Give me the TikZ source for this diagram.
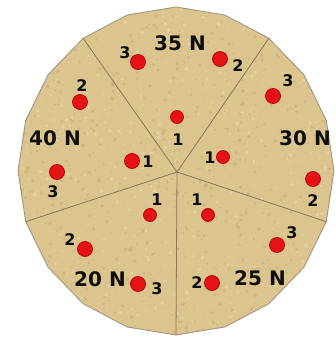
\documentclass[tikz,border=0pt]{standalone}
\usepackage{fontspec}
\setmainfont{DejaVu Sans}
\definecolor{sand}{RGB}{220,196,142}
\definecolor{rim}{RGB}{160,150,128}
\definecolor{sector}{RGB}{135,120,92}
\definecolor{dotred}{RGB}{230,18,22}
\definecolor{dotrim}{RGB}{175,10,10}
\definecolor{speckA}{RGB}{196,170,118}
\definecolor{speckB}{RGB}{236,218,176}
\definecolor{ink}{RGB}{15,15,15}
\begin{document}
\begin{tikzpicture}[x=1pt,y=-1pt,
  big/.style={font=\fontsize{20}{20}\selectfont\bfseries, text=ink, inner sep=0pt},
  num/.style={font=\fontsize{16}{16}\selectfont\bfseries, text=ink, inner sep=0pt},
  outerdot/.style={circle, fill=dotred, draw=dotrim, line width=0.8pt, minimum size=15pt, inner sep=0pt},
  innerdot/.style={circle, fill=dotred, draw=dotrim, line width=0.8pt, minimum size=13pt, inner sep=0pt},
  sectorline/.style={draw=sector, line width=0.8pt}]
\useasboundingbox (0,0) rectangle (336,337);
% board vertices
\foreach \k in {0,...,19} {
  \coordinate (v\k) at ({176+158*cos(54+18*\k)},{171-164*sin(54+18*\k)});
}
\fill[sand] (v0) \foreach \k in {1,...,19} { -- (v\k) } -- cycle;
\begin{scope}
\clip (v0) \foreach \k in {1,...,19} { -- (v\k) } -- cycle;
\pgfmathsetseed{7}
\foreach \i in {1,...,700} {
  \pgfmathsetmacro{\px}{10+rnd*320}
  \pgfmathsetmacro{\py}{5+rnd*330}
  \pgfmathsetmacro{\pr}{0.6+rnd*1.4}
  \fill[speckA, opacity=0.55] (\px,\py) circle[radius=\pr];
}
\foreach \i in {1,...,500} {
  \pgfmathsetmacro{\px}{10+rnd*320}
  \pgfmathsetmacro{\py}{5+rnd*330}
  \pgfmathsetmacro{\pr}{0.6+rnd*1.4}
  \fill[speckB, opacity=0.6] (\px,\py) circle[radius=\pr];
}
\end{scope}
\draw[rim, line width=0.9pt] (v0) \foreach \k in {1,...,19} { -- (v\k) } -- cycle;
% sector boundaries
\coordinate (c) at (177,172);
\path[sectorline] (c) -- (v0);
\path[sectorline] (c) -- (v4);
\path[sectorline] (c) -- (v8);
\path[sectorline] (c) -- (v12);
\path[sectorline] (c) -- (v16);
% 35 N
\node[big] (t35) at (180,43) {35 N};
\node[outerdot] (a3) at (138,62) {};
\node[num] (la3) at (125,53) {3};
\node[outerdot] (a2) at (220,59) {};
\node[num] (la2) at (238,66) {2};
\node[innerdot] (a1) at (177,117) {};
\node[num] (la1) at (178,140) {1};
% 30 N
\node[big] (t30) at (305,138) {30 N};
\node[outerdot] (b3) at (273,96) {};
\node[num] (lb3) at (288,81) {3};
\node[innerdot] (b1) at (223,157) {};
\node[num] (lb1) at (210,158) {1};
\node[outerdot] (b2) at (313,179) {};
\node[num] (lb2) at (313,201) {2};
% 40 N
\node[big] (t40) at (55,138) {40 N};
\node[outerdot] (c2) at (80,102) {};
\node[num] (lc2) at (82,86) {2};
\node[outerdot] (c1) at (132,161) {};
\node[num] (lc1) at (148,162) {1};
\node[outerdot] (c3) at (57,172) {};
\node[num] (lc3) at (53,192) {3};
% 20 N
\node[big] (t20) at (100,279) {20 N};
\node[innerdot] (d1) at (150,215) {};
\node[num] (ld1) at (157,200) {1};
\node[outerdot] (d2) at (85,249) {};
\node[num] (ld2) at (70,240) {2};
\node[outerdot] (d3) at (138,284) {};
\node[num] (ld3) at (157,289) {3};
% 25 N
\node[big] (t25) at (260,278) {25 N};
\node[innerdot] (e1) at (208,215) {};
\node[num] (le1) at (197,200) {1};
\node[outerdot] (e3) at (277,245) {};
\node[num] (le3) at (292,233) {3};
\node[outerdot] (e2) at (212,283) {};
\node[num] (le2) at (197,283) {2};
\end{tikzpicture}
\end{document}
